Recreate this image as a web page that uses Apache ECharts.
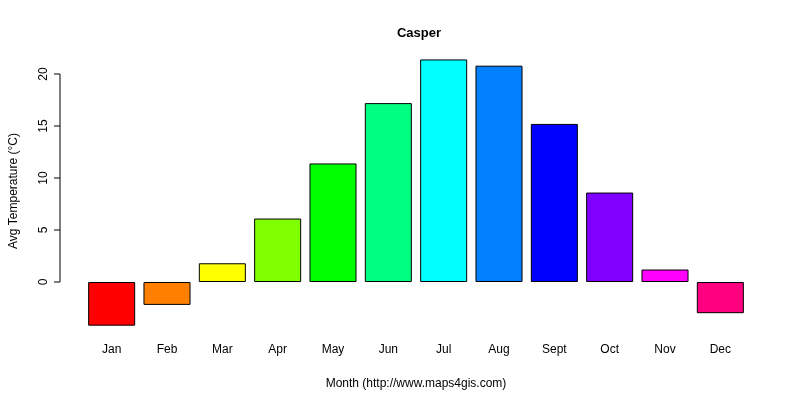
<!DOCTYPE html>
<html><head><meta charset="utf-8">
<script src="https://cdn.jsdelivr.net/npm/echarts@6/dist/echarts.min.js"></script>
<style>html,body{margin:0;padding:0;background:#fff}#c{width:800px;height:400px}</style>
</head><body><div id="c"></div>
<script>
const months = ['Jan','Feb','Mar','Apr','May','Jun','Jul','Aug','Sept','Oct','Nov','Dec'];
const temps = [-4.2,-2.2,1.8,6.1,11.4,17.2,21.4,20.8,15.2,8.6,1.2,-3.0];
const colors = ['#FF0000','#FF8000','#FFFF00','#80FF00','#00FF00','#00FF80','#00FFFF','#0080FF','#0000FF','#8000FF','#FF00FF','#FF0080'];
const yTicks = [0,5,10,15,20];
const chart = echarts.init(document.getElementById('c'));
const F = 'Arial, Liberation Sans, sans-serif';
chart.setOption({
  animation:false,
  title:{text:'Casper',left:414,top:22,textAlign:'center',textStyle:{fontFamily:F,fontSize:13,fontWeight:'bold',color:'#000'}},
  grid:{left:80,right:52,top:48,bottom:66},
  xAxis:{type:'category',data:months,axisLine:{show:false,onZero:false},axisTick:{show:false},
    axisLabel:{margin:10,color:'#000',fontFamily:F,fontSize:12},
    name:'Month (http://www.maps4gis.com)',nameLocation:'middle',nameGap:44,nameTextStyle:{fontFamily:F,fontSize:12,color:'#000'}},
  yAxis:{type:'value',min:-5,max:22.5,interval:5,offset:20,splitLine:{show:false},
    axisLine:{show:false},axisTick:{show:false},
    axisLabel:{rotate:90,color:'#000',fontFamily:F,fontSize:12,margin:14,
      formatter:v=>yTicks.includes(v)?String(v):''},
    name:'Avg Temperature (°C)',nameLocation:'middle',nameGap:44,nameTextStyle:{fontFamily:F,fontSize:12,color:'#000'}},
  series:[{type:'bar',barWidth:'85%',
    data:temps.map((v,i)=>({value:v,itemStyle:{color:colors[i],borderColor:'#000',borderWidth:1}}))}]
});
const x0 = 60;
const els = [];
const ya = chart.convertToPixel({yAxisIndex:0},0), yb = chart.convertToPixel({yAxisIndex:0},20);
els.push({type:'line',shape:{x1:x0,y1:ya,x2:x0,y2:yb},style:{stroke:'#000',lineWidth:1}});
yTicks.forEach(t=>{const y=chart.convertToPixel({yAxisIndex:0},t);
  els.push({type:'line',shape:{x1:x0-6,y1:y,x2:x0,y2:y},style:{stroke:'#000',lineWidth:1}});});
chart.setOption({graphic:els});
</script></body></html>
